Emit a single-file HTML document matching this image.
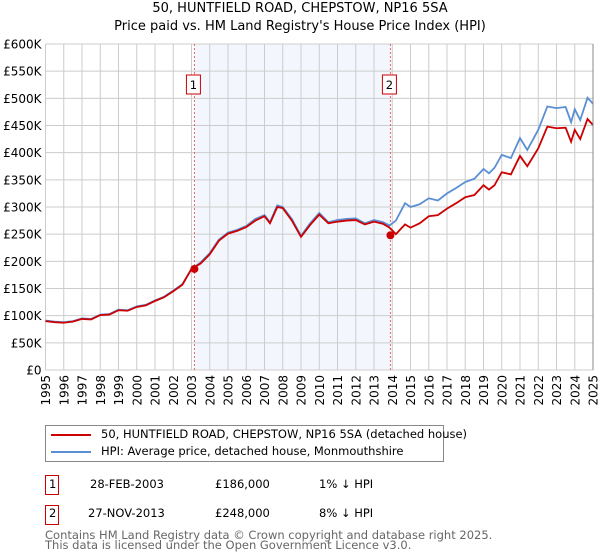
<!DOCTYPE html>
<html><head><meta charset="utf-8">
<style>
body{margin:0;background:#fff;font-family:"DejaVu Sans","Liberation Sans",sans-serif;}
#wrap{position:relative;width:600px;height:560px;overflow:hidden;}
.t{position:absolute;font-size:13px;color:#000;white-space:nowrap;}
</style></head>
<body><div id="wrap">
<div class="t" style="left:0;width:600px;text-align:center;top:1px;font-size:13px">50, HUNTFIELD ROAD, CHEPSTOW, NP16 5SA</div>
<div class="t" style="left:0;width:600px;text-align:center;top:19px;font-size:13px">Price paid vs. HM Land Registry's House Price Index (HPI)</div>
<svg id="chart" width="600" height="420" style="position:absolute;left:0;top:0" font-family="DejaVu Sans, Liberation Sans, sans-serif"></svg>

<div style="position:absolute;left:45px;top:425px;width:397px;height:35px;border:1px solid #888;">
  <div style="position:absolute;left:5px;top:8px;width:40px;height:2px;background:#cc0000"></div>
  <div class="t" style="left:55px;top:1px;font-size:11.5px">50, HUNTFIELD ROAD, CHEPSTOW, NP16 5SA (detached house)</div>
  <div style="position:absolute;left:5px;top:25px;width:40px;height:2px;background:#5b8fd4"></div>
  <div class="t" style="left:55px;top:18px;font-size:11.5px">HPI: Average price, detached house, Monmouthshire</div>
</div>

<div>
<div style="position:absolute;left:45px;top:475px;width:12px;height:18px;border:1px solid #cc0000"></div>
<div class="t" style="left:49px;top:477px;font-size:11.5px">1</div>
<div class="t" style="left:90px;top:477px;font-size:11.5px">28-FEB-2003</div>
<div class="t" style="left:215px;top:477px;font-size:11.5px">£186,000</div>
<div class="t" style="left:319px;top:477px;font-size:11.5px">1% ↓ HPI</div>
</div>
<div>
<div style="position:absolute;left:45px;top:505px;width:12px;height:18px;border:1px solid #cc0000"></div>
<div class="t" style="left:49px;top:506px;font-size:11.5px">2</div>
<div class="t" style="left:88px;top:506px;font-size:11.5px">27-NOV-2013</div>
<div class="t" style="left:215px;top:506px;font-size:11.5px">£248,000</div>
<div class="t" style="left:319px;top:506px;font-size:11.5px">8% ↓ HPI</div>
</div>
<div class="t" style="left:45px;top:530px;font-size:11.5px;color:#666;line-height:10px">Contains HM Land Registry data © Crown copyright and database right 2025.<br>This data is licensed under the Open Government Licence v3.0.</div>
</div>
<script>
const yTicks=[0,50,100,150,200,250,300,350,400,450,500,550,600];
const yTickLabels=["£0","£50K","£100K","£150K","£200K","£250K","£300K","£350K","£400K","£450K","£500K","£550K","£600K"];
const xYears=[1995,1996,1997,1998,1999,2000,2001,2002,2003,2004,2005,2006,2007,2008,2009,2010,2011,2012,2013,2014,2015,2016,2017,2018,2019,2020,2021,2022,2023,2024,2025];
const dates=[1995,1995.5,1996,1996.5,1997,1997.5,1998,1998.5,1999,1999.5,2000,2000.5,2001,2001.5,2002,2002.5,2003,2003.5,2004,2004.5,2005,2005.5,2006,2006.5,2007,2007.3,2007.7,2008,2008.5,2009,2009.5,2010,2010.5,2011,2011.5,2012,2012.5,2013,2013.5,2013.85,2014.2,2014.7,2015,2015.5,2016,2016.5,2017,2017.5,2018,2018.5,2019,2019.3,2019.6,2020,2020.5,2021,2021.4,2022,2022.5,2023,2023.5,2023.8,2024,2024.3,2024.7,2025];
const hpi=[91,89,88,90,95,94,102,103,111,110,117,120,128,135,146,158,186,198,215,240,253,258,265,278,285,272,303,300,278,247,270,289,272,276,278,279,270,276,272,266,275,307,300,305,316,312,325,335,346,352,370,362,372,396,390,427,405,442,485,482,484,456,480,460,501,490];
const paid=[90,88,87,89,94,93,101,102,110,109,116,119,127,134,145,157,186,196,213,238,251,256,263,275,283,270,300,298,275,245,267,286,270,273,275,276,268,273,269,262,250,268,262,270,283,285,297,307,318,322,340,332,340,364,360,394,375,408,448,445,446,420,442,425,462,451];
const sales=[{d:2003.16,v:186,l:"1"},{d:2013.9,v:248,l:"2"}];
const svg=document.getElementById('chart');
const NS='http://www.w3.org/2000/svg';
const X0=45.5,X1=593,Y0=370,Y1=44;
const xs=d=>X0+(d-1995)/30*(X1-X0);
const ys=v=>Y0-v/600*(Y0-Y1);
function mk(t,a){const e=document.createElementNS(NS,t);for(const k in a)e.setAttribute(k,a[k]);svg.appendChild(e);return e;}
let r=mk('rect',{x:xs(sales[0].d),y:Y1,width:xs(sales[1].d)-xs(sales[0].d),height:Y0-Y1,fill:'#eef3fc',opacity:0.7});

yTicks.forEach((v,i)=>{let l=mk('line',{x1:X0,x2:X1,y1:ys(v),y2:ys(v),stroke:'#ccc','stroke-width':1});

let t=mk('text',{x:X0-4,y:ys(v)+4.5,'text-anchor':'end','font-size':12,fill:'#000'});t.textContent=yTickLabels[i];
});
xYears.forEach(yr=>{let l=mk('line',{x1:xs(yr),x2:xs(yr),y1:Y1,y2:Y0,stroke:'#ccc','stroke-width':1});

let t=mk('text',{transform:`translate(${xs(yr)+4.5},${Y0+5}) rotate(-90)`,'text-anchor':'end','font-size':12,fill:'#000'});t.textContent=yr;
});
sales.forEach(s=>{let l=mk('line',{x1:xs(s.d),x2:xs(s.d),y1:Y1,y2:Y0,stroke:'#e06666','stroke-width':1,'stroke-dasharray':'2,2'});

let b=mk('rect',{x:xs(s.d)-8,y:75,width:14,height:19,fill:'#fff',stroke:'#cc0000'});

let t=mk('text',{x:xs(s.d)-1,y:89,'text-anchor':'middle','font-size':11.5,fill:'#000'});t.textContent=s.l;
});
const pts=a=>a.map((v,i)=>xs(dates[i])+','+ys(v)).join(' ');
let h=mk('polyline',{points:pts(hpi),fill:'none',stroke:'#5b8fd4','stroke-width':1.8});

let p=mk('polyline',{points:pts(paid),fill:'none',stroke:'#cc0000','stroke-width':1.8});

sales.forEach(s=>{let c=mk('circle',{cx:xs(s.d),cy:ys(s.v),r:4,fill:'#cc0000'});
});
let ax=mk('line',{x1:X1,x2:X1,y1:Y1,y2:Y0,stroke:'#888','stroke-width':1});

</script>
</body></html>
